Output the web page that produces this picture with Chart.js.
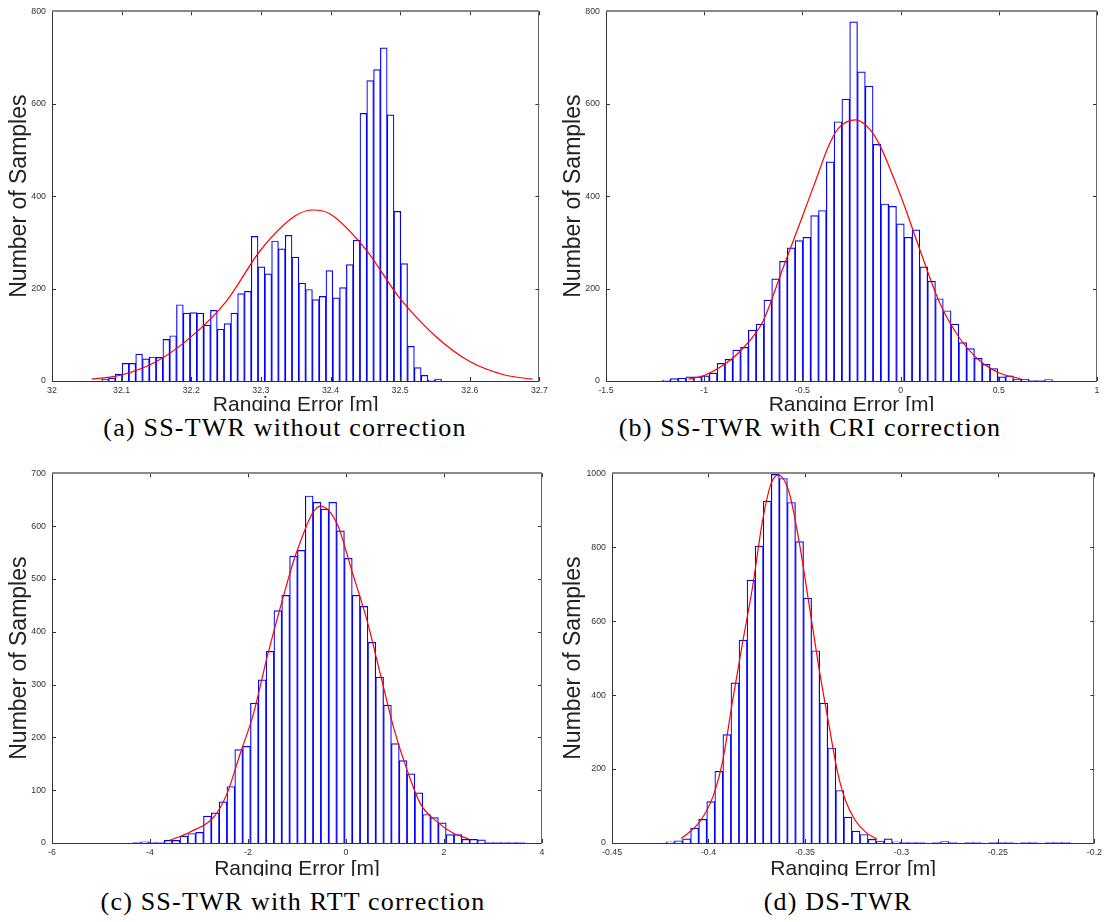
<!DOCTYPE html>
<html>
<head>
<meta charset="utf-8">
<script src="https://cdn.jsdelivr.net/npm/chart.js@4.4.1/dist/chart.umd.min.js"></script>
<style>
    html, body { margin: 0; padding: 0; background: #fff; }
    body { width: 1106px; height: 922px; position: relative; overflow: hidden; }
    .panel { position: absolute; overflow: hidden; }
    .panel canvas { display: block; }
    .caption {
        position: absolute; width: 600px; margin-left: -300px; text-align: center;
        font-family: 'Liberation Serif', 'Times New Roman', serif; font-size: 26px;
        line-height: 26px; letter-spacing: 1.2px; color: #000; white-space: nowrap;
    }
</style>
</head>
<body>
<div class="panel" style="left:0;top:0;width:552px;height:411px"><canvas id="histA" width="552" height="425"></canvas></div>
<div class="panel" style="left:553px;top:0;width:553px;height:411px"><canvas id="histB" width="553" height="425"></canvas></div>
<div class="panel" style="left:0;top:462px;width:552px;height:414px"><canvas id="histC" width="552" height="425"></canvas></div>
<div class="panel" style="left:553px;top:462px;width:553px;height:414px"><canvas id="histD" width="553" height="425"></canvas></div>

<div class="caption" style="left:285px;top:415px">(a) SS-TWR without correction</div>
<div class="caption" style="left:810px;top:415px">(b) SS-TWR with CRI correction</div>
<div class="caption" style="left:293px;top:889px">(c) SS-TWR with RTT correction</div>
<div class="caption" style="left:838px;top:889px">(d) DS-TWR</div>

<script>
// (a) SS-TWR without correction: 50 bins
const binStartA = 32.0714;
const binWidthA = 0.00976;
const countsA = [4, 6, 15, 38, 38, 58, 48, 52, 51, 90,
    98, 165, 147, 148, 147, 121, 153, 112, 124, 147,
    189, 194, 313, 247, 232, 303, 286, 315, 268, 212,
    198, 176, 183, 239, 180, 202, 252, 305, 579, 650,
    674, 721, 576, 367, 254, 75, 29, 12, 2, 4];
const fitXA = [32.057, 32.1, 32.15, 32.2, 32.25, 32.3, 32.35, 32.375, 32.4, 32.45, 32.5, 32.55, 32.6, 32.65, 32.69];
const fitYA = [4, 13, 42, 96, 172, 284, 358, 370, 361, 286, 178, 98, 42, 13, 4];
const xTicksA = [32, 32.1, 32.2, 32.3, 32.4, 32.5, 32.6, 32.7];
const yTicksA = [0, 200, 400, 600, 800];

// (b) SS-TWR with CRI correction
const binStartB = -1.212;
const binWidthB = 0.0397;
const countsB = [2, 5, 6, 9, 9, 11, 17, 38, 47, 67,
    73, 110, 123, 175, 221, 259, 288, 304, 311, 358,
    369, 474, 561, 610, 777, 669, 638, 512, 383, 378,
    340, 311, 327, 247, 216, 178, 152, 123, 83, 70,
    49, 36, 27, 9, 11, 4, 4, 1, 1, 3];
const fitXB = [-1.08, -1.0, -0.9, -0.8, -0.7, -0.6, -0.5, -0.42, -0.37, -0.32, -0.229, -0.15, -0.1, -0.05, 0.01, 0.1, 0.2, 0.3, 0.4, 0.5, 0.61];
const fitYB = [4, 12, 35, 72, 130, 243, 356, 448, 505, 545, 565, 541, 505, 455, 390, 282, 168, 93, 45, 18, 5];
const xTicksB = [-1.5, -1, -0.5, 0, 0.5, 1];
const yTicksB = [0, 200, 400, 600, 800];

// (c) SS-TWR with RTT correction
const binStartC = -4.347;
const binWidthC = 0.1598;
const countsC = [1, 2, 1, 1, 5, 5, 13, 18, 20, 51,
    57, 78, 107, 177, 183, 265, 309, 363, 440, 469,
    543, 554, 657, 645, 632, 645, 591, 539, 469, 448,
    380, 314, 261, 188, 156, 131, 95, 54, 48, 38,
    16, 16, 7, 7, 6, 1, 1, 1, 1, 1];
const fitXC = [-3.6, -3.18, -2.7, -2.43, -2.16, -1.89, -1.61, -1.34, -1.0, -0.525, -0.18, 0.12, 0.43, 0.7, 0.97, 1.25, 1.52, 1.86, 2.2, 2.5];
const fitYC = [5, 21, 49, 93, 169, 244, 352, 446, 553, 638, 604, 515, 421, 320, 219, 137, 74, 40, 18, 8];
const xTicksC = [-6, -4, -2, 0, 2, 4];
const yTicksC = [0, 100, 200, 300, 400, 500, 600, 700];

// (d) DS-TWR
const binStartD = -0.4218;
const binWidthD = 0.00418;
const countsD = [3, 6, 11, 40, 64, 112, 194, 293, 433, 549,
    711, 803, 925, 997, 986, 921, 815, 662, 520, 378,
    257, 142, 70, 32, 23, 10, 5, 11, 3, 1,
    1, 1, 0, 1, 4, 1, 0, 1, 1, 0,
    1, 1, 1, 0, 1, 1, 0, 1, 1, 1];
const fitXD = [-0.4141, -0.4046, -0.3978, -0.3926, -0.3875, -0.3823, -0.3772, -0.372, -0.3677, -0.3638, -0.3582, -0.3531, -0.3479, -0.3428, -0.3376, -0.3333, -0.329, -0.3239, -0.3187, -0.3127];
const fitYD = [12, 57, 124, 223, 385, 543, 691, 871, 970, 995, 948, 817, 646, 475, 320, 196, 115, 61, 30, 10];
const xTicksD = [-0.45, -0.4, -0.35, -0.3, -0.25, -0.2];
const yTicksD = [0, 200, 400, 600, 800, 1000];

const sans = "'Liberation Sans', Arial, Helvetica, sans-serif";

// box around the axes with inward tick marks on all four sides
const axesBox = {
    id: 'axesBox',
    afterDraw: (chart) => {
        const { ctx, chartArea: a, scales: { x, y } } = chart;
        ctx.save();
        ctx.lineWidth = 1;
        ctx.strokeStyle = '#333';
        ctx.beginPath();
        x.ticks.forEach(t => {
            const px = Math.round(x.getPixelForValue(t.value)) + 0.5;
            ctx.moveTo(px, a.bottom); ctx.lineTo(px, a.bottom - 4);
            ctx.moveTo(px, a.top); ctx.lineTo(px, a.top + 4);
        });
        y.ticks.forEach(t => {
            const py = Math.round(y.getPixelForValue(t.value)) + 0.5;
            ctx.moveTo(a.left, py); ctx.lineTo(a.left + 4, py);
            ctx.moveTo(a.right, py); ctx.lineTo(a.right - 4, py);
        });
        ctx.stroke();

        const l = Math.round(a.left) + 0.5, r = Math.round(a.right) - 0.5;
        const t = Math.round(a.top), b = Math.round(a.bottom) + 0.5;
        ctx.strokeStyle = '#333';
        ctx.beginPath();
        ctx.moveTo(l, t); ctx.lineTo(l, b); ctx.lineTo(r, b);
        ctx.stroke();
        ctx.strokeStyle = '#666';
        ctx.beginPath();
        ctx.moveTo(r, b); ctx.lineTo(r, t);
        ctx.stroke();
        ctx.strokeStyle = '#8a8a8a';
        ctx.lineWidth = 2;
        ctx.beginPath();
        ctx.moveTo(l - 0.5, t); ctx.lineTo(r + 0.5, t);
        ctx.stroke();
        ctx.restore();
    }
};

const newHistogram = (id, p) => {
    const bars = p.counts.map((c, i) => ({ x: p.binStart + (i + 0.5) * p.binWidth, y: c }));
    const fit = p.fitX.map((v, i) => ({ x: v, y: p.fitY[i] }));

    return new Chart(document.getElementById(id), {
        type: 'bar',
        data: {
            datasets: [{
                type: 'line',
                data: fit,
                borderColor: '#ff0000',
                borderWidth: 1.2,
                pointRadius: 0,
                cubicInterpolationMode: 'monotone',
                fill: false,
                order: 0
            }, {
                type: 'bar',
                data: bars,
                backgroundColor: '#ffffff',
                borderColor: '#0000ff',
                borderWidth: 1.2,
                barPercentage: 1,
                categoryPercentage: 1,
                order: 1
            }]
        },
        options: {
            responsive: false,
            animation: false,
            events: [],
            layout: { padding: { top: 10, right: p.padRight, left: 0, bottom: 0 } },
            plugins: { legend: { display: false }, tooltip: { enabled: false } },
            scales: {
                x: {
                    type: 'linear',
                    offset: false,
                    min: p.xTicks[0],
                    max: p.xTicks[p.xTicks.length - 1],
                    grid: { display: false, drawTicks: false },
                    border: { display: false },
                    afterBuildTicks: s => { s.ticks = p.xTicks.map(v => ({ value: v })); },
                    afterFit: s => { s.height = 44; },
                    ticks: {
                        autoSkip: false, maxRotation: 0, padding: 4, color: '#333',
                        font: { family: sans, size: 8.8 },
                        callback: v => String(v)
                    },
                    title: {
                        display: true, text: 'Ranging Error [m]', color: '#222',
                        font: { family: sans, size: 21 },
                        padding: { top: 0, bottom: p.xTitlePad }
                    }
                },
                y: {
                    min: p.yTicks[0],
                    max: p.yTicks[p.yTicks.length - 1],
                    grid: { display: false, drawTicks: false },
                    border: { display: false },
                    afterBuildTicks: s => { s.ticks = p.yTicks.map(v => ({ value: v })); },
                    afterFit: s => { s.width = p.yWidth; },
                    ticks: {
                        autoSkip: false, padding: 6, color: '#333',
                        font: { family: sans, size: 8.8 },
                        callback: v => String(v)
                    },
                    title: {
                        display: true, text: 'Number of Samples', color: '#222',
                        font: { family: sans, size: 23 },
                        padding: { top: p.yTitlePad, bottom: 0 }
                    }
                }
            }
        },
        plugins: [axesBox]
    });
};

newHistogram('histA', {
    counts: countsA, binStart: binStartA, binWidth: binWidthA,
    fitX: fitXA, fitY: fitYA, xTicks: xTicksA, yTicks: yTicksA,
    yWidth: 52, padRight: 10, yTitlePad: 6.2, xTitlePad: 7.2
});
newHistogram('histB', {
    counts: countsB, binStart: binStartB, binWidth: binWidthB,
    fitX: fitXB, fitY: fitYB, xTicks: xTicksB, yTicks: yTicksB,
    yWidth: 53, padRight: 9, yTitlePad: 7.2, xTitlePad: 7.2
});
newHistogram('histC', {
    counts: countsC, binStart: binStartC, binWidth: binWidthC,
    fitX: fitXC, fitY: fitYC, xTicks: xTicksC, yTicks: yTicksC,
    yWidth: 52, padRight: 10, yTitlePad: 6.2, xTitlePad: 5.2
});
newHistogram('histD', {
    counts: countsD, binStart: binStartD, binWidth: binWidthD,
    fitX: fitXD, fitY: fitYD, xTicks: xTicksD, yTicks: yTicksD,
    yWidth: 59, padRight: 9, yTitlePad: 7.2, xTitlePad: 5.2
});
</script>
</body>
</html>
